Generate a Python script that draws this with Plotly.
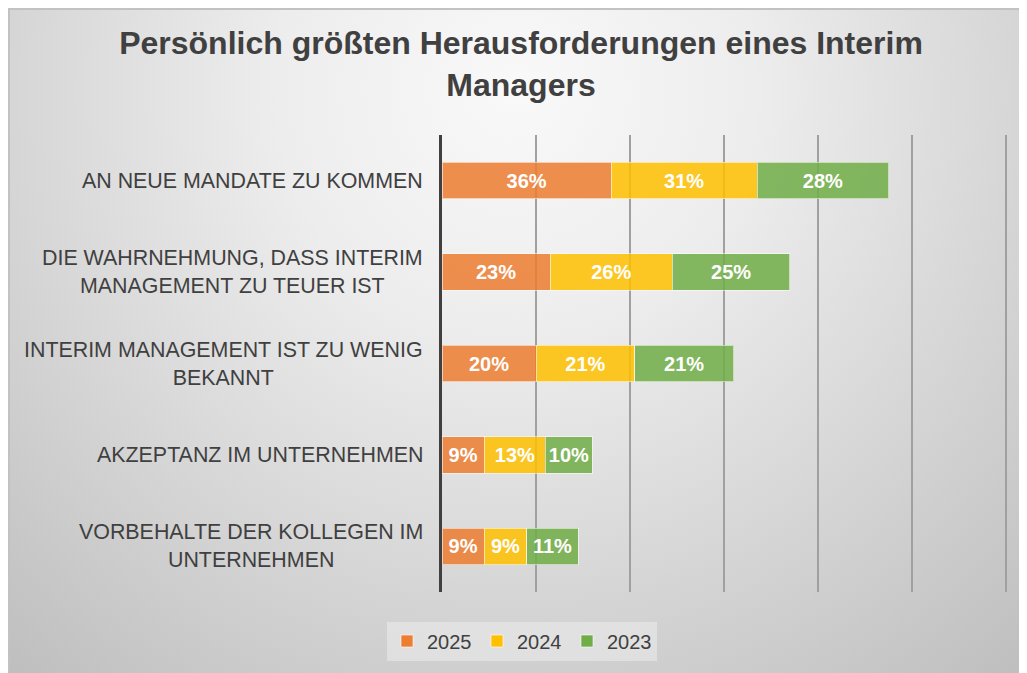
import base64
import plotly.graph_objects as go

categories = [
    "AN NEUE MANDATE ZU KOMMEN",
    "DIE WAHRNEHMUNG, DASS INTERIM<br>MANAGEMENT ZU TEUER IST",
    "INTERIM MANAGEMENT IST ZU WENIG<br>BEKANNT",
    "AKZEPTANZ IM UNTERNEHMEN",
    "VORBEHALTE DER KOLLEGEN IM<br>UNTERNEHMEN",
]
years = ["2025", "2024", "2023"]
v2025 = [36, 23, 20, 9, 9]
v2024 = [31, 26, 21, 13, 9]
v2023 = [28, 25, 21, 10, 11]
colors = ["#ED7D31", "#FFC000", "#70AD47"]

W, H = 1027, 673
ML, MR, MT, MB = 434, 24, 127, 89
PW, PH = W - ML - MR, H - MT - MB

FONT = "Liberation Sans, Arial, sans-serif"
TXT = "#404040"


def px(x):
    return (x - ML) / PW


def py(y):
    return (H - MB - y) / PH


# radial grey background as an svg image (plotly has no gradient fills)
svg = (
    f"<svg xmlns='http://www.w3.org/2000/svg' width='{W}' height='{H}' "
    f"viewBox='0 0 {W} {H}' preserveAspectRatio='none'>"
    "<defs><radialGradient id='g' gradientUnits='userSpaceOnUse' "
    "cx='507' cy='82' r='800'>"
    "<stop offset='0' stop-color='#f9f9f9'/>"
    "<stop offset='0.3' stop-color='#ededed'/>"
    "<stop offset='1' stop-color='#bcbcbc'/>"
    "</radialGradient></defs>"
    f"<rect width='{W}' height='{H}' fill='url(#g)'/></svg>"
)
bg_src = "data:image/svg+xml;base64," + base64.b64encode(svg.encode()).decode()

fig = go.Figure()
for name, vals, col in zip(years, [v2025, v2024, v2023], colors):
    fig.add_trace(go.Bar(
        y=categories, x=vals, name=name, orientation="h",
        marker=dict(color=col, opacity=0.85,
                    line=dict(color="rgba(255,255,255,0.6)", width=1)),
        text=[f"{v}%" for v in vals], textposition="inside",
        insidetextanchor="middle", textangle=0, constraintext="none",
        textfont=dict(family=FONT, size=20, color="white", weight="bold"),
        hoverinfo="skip",
    ))

# category labels, centered lines like the original
for cat in categories:
    fig.add_annotation(
        x=0, xref="paper", y=cat, yref="y", text=cat, showarrow=False,
        xanchor="right", yanchor="middle", align="center", xshift=-17,
        font=dict(family=FONT, size=21.4, color=TXT),
    )

fig.update_layout(
    width=W, height=H,
    margin=dict(l=ML, r=MR, t=MT, b=MB),
    paper_bgcolor="#d8d8d8", plot_bgcolor="rgba(0,0,0,0)",
    barmode="stack", bargap=0.6,
    font=dict(family=FONT, color=TXT),
    title=dict(
        text="Persönlich größten Herausforderungen eines Interim<br>Managers",
        x=513 / W, xanchor="center", xref="container",
        y=1 - 46 / H, yanchor="top", yref="container",
        font=dict(family=FONT, size=32, color=TXT, weight="bold"),
    ),
    xaxis=dict(range=[0, 121], dtick=20, showticklabels=False,
               showgrid=True, gridcolor="#a0a0a0", gridwidth=1.5,
               zeroline=False, showline=False, fixedrange=True),
    yaxis=dict(autorange="reversed", showticklabels=False, showgrid=False,
               showline=True, linecolor="#404040", linewidth=3,
               ticks="", fixedrange=True),
    legend=dict(
        orientation="h", traceorder="normal",
        x=514 / W, xref="container", xanchor="center",
        y=1 - 633 / H, yref="container", yanchor="middle",
        bgcolor="rgba(236,236,236,0.55)",
        font=dict(family=FONT, size=20, color=TXT),
        itemwidth=30, entrywidth=45, entrywidthmode="pixels",
    ),
    images=[dict(
        source=bg_src, xref="paper", yref="paper",
        x=px(0), y=py(0), sizex=W / PW, sizey=H / PH,
        xanchor="left", yanchor="top", sizing="stretch", layer="below",
    )],
    shapes=[dict(
        type="rect", xref="paper", yref="paper",
        x0=px(1), y0=py(H + 5), x1=px(W + 5), y1=py(1),
        line=dict(color="#c2c2c2", width=2), fillcolor="rgba(0,0,0,0)",
        layer="below",
    )],
    showlegend=True,
)

fig.write_html("out.html")
